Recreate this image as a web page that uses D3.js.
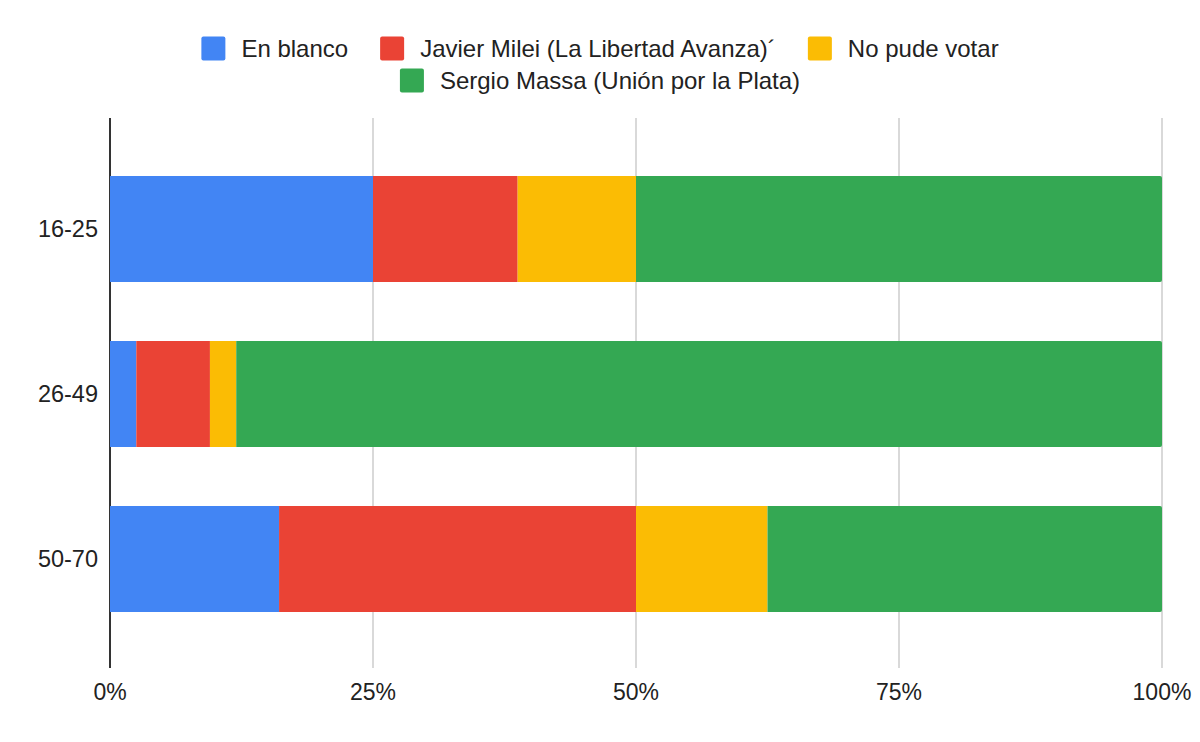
<!DOCTYPE html>
<meta charset="utf-8">
<style>
body { margin: 0; background: #fff; }
text { font-family: "Liberation Sans", Arial, sans-serif; fill: #222; }
.grid line { stroke: #ccc; stroke-width: 1.5; }
.axis-line { stroke: #333; stroke-width: 2; }
</style>
<body>
<script src="https://cdn.jsdelivr.net/npm/d3@7"></script>
<script>

// age groups (rows)
var categories = ["16-25", "26-49", "50-70"];
// series names, in stack order
var seriesNames = ["En blanco", "Javier Milei (La Libertad Avanza)´", "No pude votar", "Sergio Massa (Unión por la Plata)"];
var seriesColors = ["#4285F4", "#EA4335", "#FBBC04", "#34A853"];
// share of each answer per age group (percent)
var enBlanco = [25, 2.5, 16.07];
var milei    = [13.75, 7, 33.93];
var noPude   = [11.25, 2.5, 12.5];
var massa    = [50, 88, 37.5];
var xTicks = [0, 0.25, 0.5, 0.75, 1];

var W = 1200, H = 742;
var plot = {left: 110, right: 1162, top: 118, bottom: 668};

var svg = d3.select("body").append("svg")
    .attr("width", W)
    .attr("height", H);

// build rows for d3.stack
var keys = ["blanco", "milei", "nopude", "massa"];
var rows = categories.map(function(c, i) {
  return {cat: c, blanco: enBlanco[i], milei: milei[i], nopude: noPude[i], massa: massa[i]};
});
var stacked = d3.stack().keys(keys).offset(d3.stackOffsetExpand)(rows);

var x = d3.scaleLinear().domain([0, 1]).range([plot.left, plot.right]);
var y = d3.scaleBand().domain(categories)
    .range([plot.top, plot.bottom + 2])
    .paddingInner(0.358)
    .paddingOuter(0.352);

// gridlines
svg.append("g").attr("class", "grid")
  .selectAll("line")
  .data(xTicks.slice(1))
  .enter().append("line")
  .attr("x1", function(d) { return x(d); })
  .attr("x2", function(d) { return x(d); })
  .attr("y1", plot.top)
  .attr("y2", plot.bottom);

// left axis line (bars sit on top of it)
svg.append("line").attr("class", "axis-line")
  .attr("x1", x(0)).attr("x2", x(0))
  .attr("y1", plot.top).attr("y2", plot.bottom);

// rect with rounded right corners only
function rightRounded(x0, y0, w, h, r) {
  return "M" + x0 + "," + y0 + "H" + (x0 + w - r) +
    "Q" + (x0 + w) + "," + y0 + " " + (x0 + w) + "," + (y0 + r) +
    "V" + (y0 + h - r) +
    "Q" + (x0 + w) + "," + (y0 + h) + " " + (x0 + w - r) + "," + (y0 + h) +
    "H" + x0 + "Z";
}

var layers = svg.append("g").selectAll("g")
  .data(stacked)
  .enter().append("g")
  .attr("fill", function(d, i) { return seriesColors[i]; });

layers.selectAll("path")
  .data(function(d) { return d.map(function(p) { p.last = d.index === keys.length - 1; return p; }); })
  .enter().append("path")
  .attr("d", function(p) {
    var x0 = x(p[0]), w = x(p[1]) - x(p[0]);
    return rightRounded(x0, y(p.data.cat), w, y.bandwidth(), p.last ? 2 : 0);
  });

// y labels
svg.append("g").selectAll("text")
  .data(categories)
  .enter().append("text")
  .attr("x", plot.left - 12)
  .attr("y", function(d) { return y(d) + y.bandwidth() / 2; })
  .attr("dy", "0.35em")
  .attr("text-anchor", "end")
  .style("font-size", "23.5px")
  .text(function(d) { return d; });

// x labels
svg.append("g").selectAll("text")
  .data(xTicks)
  .enter().append("text")
  .attr("x", function(d) { return x(d); })
  .attr("y", 700)
  .attr("text-anchor", "middle")
  .style("font-size", "23px")
  .text(d3.format(".0%"));

// legend, wrapped into centred rows
var legendFont = 24, sw = 24, textGap = 16, itemGap = 32, maxRow = 860;
var legend = svg.append("g");
var items = seriesNames.map(function(name, i) {
  var t = legend.append("text").style("font-size", legendFont + "px").text(name);
  var w = t.node().getComputedTextLength();
  return {name: name, color: seriesColors[i], text: t, w: sw + textGap + w};
});
var legendRows = [[]], rowW = [0];
items.forEach(function(it) {
  var r = legendRows.length - 1;
  var add = (legendRows[r].length ? itemGap : 0) + it.w;
  if (legendRows[r].length && rowW[r] + add > maxRow) {
    legendRows.push([it]); rowW.push(it.w);
  } else {
    legendRows[r].push(it); rowW[r] += add;
  }
});
legendRows.forEach(function(row, r) {
  var cy = 48.5 + r * 32;
  var cx = W / 2 - rowW[r] / 2;
  row.forEach(function(it) {
    legend.append("rect")
      .attr("x", cx).attr("y", cy - sw / 2)
      .attr("width", sw).attr("height", sw)
      .attr("rx", 2)
      .attr("fill", it.color);
    it.text.attr("x", cx + sw + textGap).attr("y", cy).attr("dy", "0.35em");
    cx += it.w + itemGap;
  });
});

</script>
</body>
